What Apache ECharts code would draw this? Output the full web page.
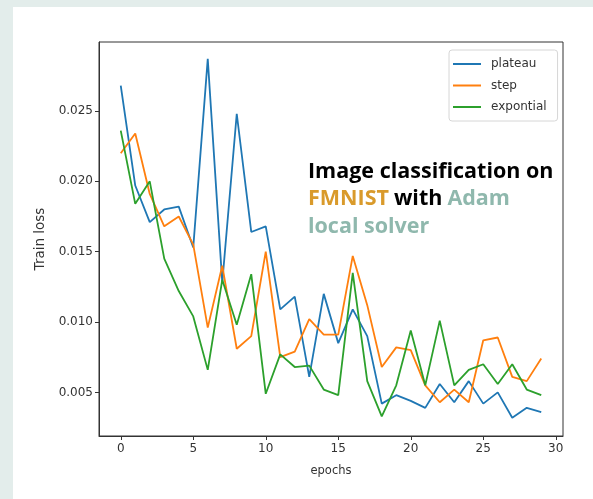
<!DOCTYPE html>
<html>
<head>
<meta charset="utf-8">
<script src="https://cdn.jsdelivr.net/npm/echarts@6/dist/echarts.min.js"></script>
<style>
html,body{margin:0;padding:0;width:593px;height:499px;background:#e3edeb;overflow:hidden;}
#panel{position:absolute;left:13px;top:7px;right:0;bottom:0;background:#ffffff;}
#chart{position:absolute;left:0;top:0;width:593px;height:499px;}
</style>
</head>
<body>
<div id="panel"></div>
<div id="chart"></div>
<script>
const epochs = Array.from({length:30}, (_, i) => i);
const plateau = [0.0268,0.0197,0.0171,0.0180,0.0182,0.0153,0.0287,0.0128,0.0248,0.0164,0.0168,0.0109,0.0118,0.0061,0.0120,0.0085,0.0109,0.0090,0.0042,0.0048,0.0044,0.0039,0.0056,0.0043,0.0058,0.0042,0.0050,0.0032,0.0039,0.0036];
const step = [0.0220,0.0234,0.0191,0.0168,0.0175,0.0155,0.0096,0.0140,0.0081,0.0090,0.0150,0.0075,0.0079,0.0102,0.0091,0.0091,0.0147,0.0112,0.0068,0.0082,0.0080,0.0055,0.0043,0.0052,0.0043,0.0087,0.0089,0.0061,0.0058,0.0074];
const expontial = [0.0236,0.0184,0.0200,0.0145,0.0122,0.0104,0.0066,0.0130,0.0098,0.0134,0.0049,0.0077,0.0068,0.0069,0.0052,0.0048,0.0135,0.0058,0.0033,0.0055,0.0094,0.0055,0.0101,0.0055,0.0066,0.0070,0.0056,0.0070,0.0052,0.0048];
const xTicks = [0,5,10,15,20,25,30];
const yTicks = [0.005,0.010,0.015,0.020,0.025];
const seriesNames = ['plateau','step','expontial'];
const colors = ['#1f77b4','#ff7f0e','#2ca02c'];

const chart = echarts.init(document.getElementById('chart'), null, {renderer:'canvas'});
const mk = (name, vals, c) => ({
  name, type:'line', data: epochs.map((e,i)=>[e, vals[i]]),
  symbol:'none', showSymbol:false, smooth:false,
  lineStyle:{color:c, width:1.8}, itemStyle:{color:c}, animation:false, z:2
});
chart.setOption({
  animation:false,
  backgroundColor:'transparent',
  grid:{left:99, top:42, right:30, bottom:63, show:true, borderColor:'#333', borderWidth:1, backgroundColor:'transparent'},
  xAxis:{type:'value', min:-1.5, max:30.5,
    name:'epochs', nameLocation:'middle', nameGap:29,
    nameTextStyle:{fontFamily:'DejaVu Sans', fontSize:11.5, color:'#333'},
    axisLine:{show:true, onZero:false, lineStyle:{color:'#333'}},
    axisTick:{show:true, length:4, inside:false, customValues:xTicks, lineStyle:{color:'#333'}},
    axisLabel:{customValues:xTicks, fontFamily:'DejaVu Sans', fontSize:12, color:'#333', margin:7},
    splitLine:{show:false}},
  yAxis:{type:'value', min:0.0019, max:0.0299,
    name:'Train loss', nameLocation:'middle', nameGap:52, nameRotate:90,
    nameTextStyle:{fontFamily:'DejaVu Sans', fontSize:13.5, color:'#333'},
    axisLine:{show:true, onZero:false, lineStyle:{color:'#333'}},
    axisTick:{show:true, length:4, inside:false, customValues:yTicks, lineStyle:{color:'#333'}},
    axisLabel:{customValues:yTicks, formatter:v=>v.toFixed(3), fontFamily:'DejaVu Sans', fontSize:12, color:'#333', margin:6},
    splitLine:{show:false}},
  legend:{data:seriesNames, orient:'vertical', left:449, top:50, width:108,
    padding:[7,11,7,4], itemGap:7.5, itemWidth:28, itemHeight:2, icon:'rect',
    backgroundColor:'#ffffff', borderColor:'#d6d6d6', borderWidth:1, borderRadius:3,
    textStyle:{fontFamily:'DejaVu Sans', fontSize:12, color:'#333', padding:[0,0,0,5], lineHeight:14}},
  title:{left:308, top:158, padding:[0,0,0,0],
    text:'{b|Image classification on}\n{o|FMNIST} {b|with} {g|Adam}\n{g|local solver}',
    textStyle:{rich:{
      b:{fontFamily:'Open Sans', fontWeight:'bold', fontSize:21.5, color:'#000', lineHeight:27.5},
      o:{fontFamily:'Open Sans', fontWeight:'bold', fontSize:21.5, color:'#d99a2b', lineHeight:27.5},
      g:{fontFamily:'Open Sans', fontWeight:'bold', fontSize:21.5, color:'#8fb8ad', lineHeight:27.5}
    }}},
  series:[mk(seriesNames[0], plateau, colors[0]), mk(seriesNames[1], step, colors[1]), mk(seriesNames[2], expontial, colors[2])]
});
</script>
</body>
</html>
